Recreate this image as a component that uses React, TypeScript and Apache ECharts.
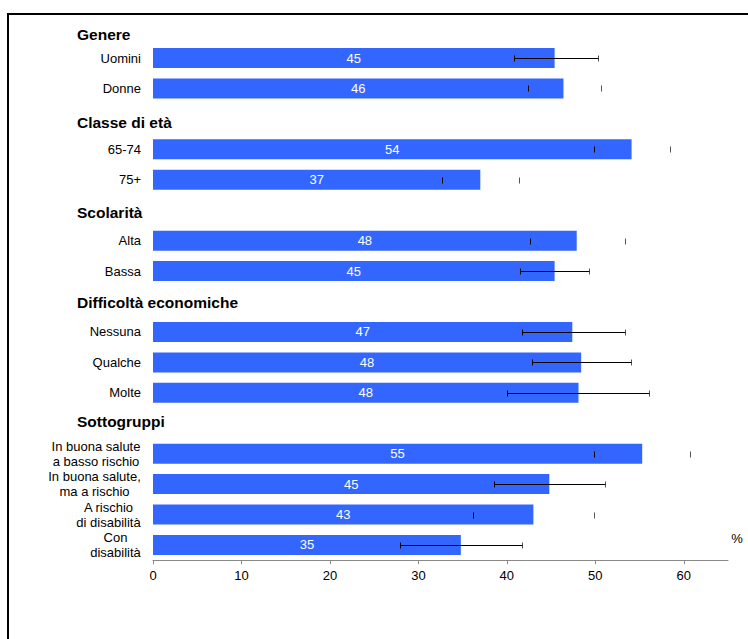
import React, { useEffect, useRef } from "react";
import * as echarts from "echarts";

const categories = [
  "Genere", "Uomini", "Donne",
  "Classe di età", "65-74", "75+",
  "Scolarità", "Alta", "Bassa",
  "Difficoltà economiche", "Nessuna", "Qualche", "Molte",
  "Sottogruppi", "In buona salute\na basso rischio", "In buona salute,\nma a rischio", "A rischio\ndi disabilità", "Con\ndisabilità",
];
const headers = ["Genere", "Classe di età", "Scolarità", "Difficoltà economiche", "Sottogruppi"];

const barValues = [null, 45.4, 46.4, null, 54.1, 37.0, null, 47.9, 45.4, null, 47.4, 48.4, 48.1, null, 55.3, 44.8, 43.0, 34.8];
const errLow = [null, 40.8, 42.4, null, 49.8, 32.7, null, 42.6, 41.5, null, 41.7, 42.8, 40.0, null, 49.8, 38.6, 36.2, 27.9];
const errHigh = [null, 50.3, 50.6, null, 58.4, 41.4, null, 53.3, 49.3, null, 53.3, 54.0, 56.1, null, 60.7, 51.1, 49.8, 41.7];
const errLineShown = [0, 1, 0, 0, 0, 0, 0, 0, 1, 0, 1, 1, 1, 0, 0, 1, 0, 1];
const xTicks = [0, 10, 20, 30, 40, 50, 60];
const unitLabel = "%";

const FONT = "'Liberation Sans', Arial, sans-serif";

export default function App() {
  const ref = useRef<HTMLDivElement>(null);
  useEffect(() => {
    if (!ref.current) return;
    const chart = echarts.init(ref.current, null, { renderer: "svg" });

    const errData: any[] = [];
    categories.forEach((c, i) => {
      if (errLow[i] != null && errHigh[i] != null) {
        errData.push([i, errLow[i], errHigh[i], errLineShown[i]]);
      }
    });

    const multiWidths = [90, 93, 65, 51];
    const headerPads: any = {
      h0: [14, 0, 0, 0],
      h1: [8, 0, 0, 0],
      h2: [4, 0, 0, 0],
      h3: [2, 0, 0, 0],
      h4: [0, 0, 4, 0],
    };
    const rich: any = {};
    Object.keys(headerPads).forEach((k) => {
      rich[k] = {
        fontFamily: FONT,
        fontWeight: "bold",
        fontSize: 15.5,
        color: "#000",
        width: 64,
        align: "left",
        padding: headerPads[k],
      };
    });
    multiWidths.forEach((w, k) => {
      rich["m" + k] = {
        fontFamily: FONT,
        fontSize: 13,
        color: "#000",
        width: w,
        align: "center",
        lineHeight: 15,
      };
    });

    const option: any = {
      animation: false,
      backgroundColor: "#fff",
      grid: { left: 153, right: 20, top: 12.4, bottom: 78.8, containLabel: false },
      graphic: [
        {
          type: "rect",
          shape: { x: 8, y: 14, width: 900, height: 800 },
          style: { fill: "none", stroke: "#000", lineWidth: 2 },
          silent: true,
          z: 100,
        },
        {
          type: "text",
          x: 737,
          y: 538,
          style: { text: unitLabel, font: `13px ${FONT}`, fill: "#000", textAlign: "center", textVerticalAlign: "middle" },
        },
      ],
      xAxis: {
        type: "value",
        min: 0,
        max: 65,
        interval: 10,
        splitLine: { show: false },
        axisLine: { show: true, lineStyle: { color: "#888", width: 1 } },
        axisTick: { show: true, length: 4, lineStyle: { color: "#888" }, customValues: xTicks },
        axisLabel: {
          customValues: xTicks,
          margin: 9,
          fontFamily: FONT,
          fontSize: 13,
          color: "#000",
        },
      },
      yAxis: {
        type: "category",
        data: categories,
        inverse: true,
        axisLine: { show: false },
        axisTick: { show: false },
        splitLine: { show: false },
        axisLabel: {
          interval: 0,
          margin: 12,
          fontFamily: FONT,
          fontSize: 13,
          color: "#000",
          lineHeight: 15,
          rich,
          formatter: (val: string, idx: number) => {
            const h = headers.indexOf(val);
            if (h >= 0) return `{h${h}|${val}}`;
            if (val.indexOf("\n") >= 0) {
              const k = idx - 14;
              return val.split("\n").map((l) => `{m${k}|${l}}`).join("\n");
            }
            return val;
          },
        },
      },
      series: [
        {
          type: "bar",
          data: barValues.map((v) => (v == null ? "-" : v)),
          barWidth: 20,
          itemStyle: { color: "#3366FF" },
          label: {
            show: true,
            position: "inside",
            color: "#fff",
            fontFamily: FONT,
            fontSize: 13,
            formatter: (p: any) => String(Math.round(p.value)),
          },
          z: 2,
        },
        {
          type: "custom",
          data: errData,
          encode: { x: [1, 2], y: 0 },
          z: 5,
          renderItem: (params: any, api: any) => {
            const i = api.value(0);
            const p1 = api.coord([api.value(1), i]);
            const p2 = api.coord([api.value(2), i]);
            const show = api.value(3);
            const x1 = Math.round(p1[0]) + 0.5;
            const x2 = Math.round(p2[0]) + 0.5;
            const y = Math.round(p1[1]) + 0.5;
            const st = { stroke: "#000", lineWidth: 1 };
            const children: any[] = [
              { type: "line", shape: { x1: x1, y1: y - 3, x2: x1, y2: y + 3 }, style: st },
              { type: "line", shape: { x1: x2, y1: y - 3, x2: x2, y2: y + 3 }, style: { stroke: "#555", lineWidth: 1 } },
            ];
            if (show) {
              children.push({ type: "line", shape: { x1, y1: y, x2, y2: y }, style: st });
            }
            return { type: "group", children };
          },
        },
      ],
    };
    chart.setOption(option);
    return () => chart.dispose();
  }, []);

  return (
    <div
      ref={ref}
      style={{ position: "absolute", left: 0, top: 0, width: 748, height: 639 }}
    />
  );
}
